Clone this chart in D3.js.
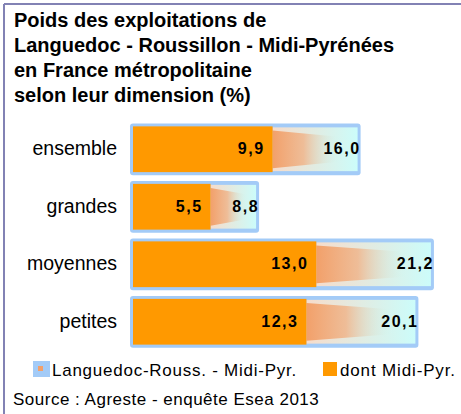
<!DOCTYPE html>
<html>
<head>
<meta charset="utf-8">
<script src="https://cdn.jsdelivr.net/npm/d3@7"></script>
<style>
  body { margin: 0; background: #fff; }
  svg { display: block; font-family: "Liberation Sans", Arial, sans-serif; }
</style>
</head>
<body>
<div id="chart"></div>
<script>
var titleLines = ["Poids des exploitations de",
                  "Languedoc - Roussillon - Midi-Pyrénées",
                  "en France métropolitaine",
                  "selon leur dimension (%)"];
var categories = ["ensemble", "grandes", "moyennes", "petites"];
var totalValues = [16.0, 8.8, 21.2, 20.1];
var midiPyrValues = [9.9, 5.5, 13.0, 12.3];
var legendLabels = ["Languedoc-Rouss. - Midi-Pyr.", "dont Midi-Pyr."];
var sourceText = "Source : Agreste - enquête Esea 2013";

var width = 461, height = 414;

var svg = d3.select("#chart").append("svg")
            .attr("width", width)
            .attr("height", height);

var defs = svg.append("defs");

var bgGrad = defs.append("linearGradient").attr("id", "bgGrad");
bgGrad.append("stop").attr("offset", "0%").attr("stop-color", "#f6dccb");
bgGrad.append("stop").attr("offset", "100%").attr("stop-color", "#ccfcfa");

var funnelGrad = defs.append("linearGradient").attr("id", "funnelGrad");
funnelGrad.append("stop").attr("offset", "0%").attr("stop-color", "#f2a06a").attr("stop-opacity", 1);
funnelGrad.append("stop").attr("offset", "45%").attr("stop-color", "#efb890").attr("stop-opacity", 0.9);
funnelGrad.append("stop").attr("offset", "100%").attr("stop-color", "#ccfcfa").attr("stop-opacity", 0);

// frame: top and left lines
svg.append("line").attr("x1", 4).attr("x2", width).attr("y1", 4).attr("y2", 4)
   .attr("stroke", "#8282b4").attr("stroke-width", 2);
svg.append("line").attr("x1", 4).attr("x2", 4).attr("y1", 4).attr("y2", height)
   .attr("stroke", "#8282b4").attr("stroke-width", 2);

// title
svg.append("g").selectAll("text")
   .data(titleLines)
   .enter()
   .append("text")
   .attr("x", 14)
   .attr("y", function (d, i) { return 27 + i * 25; })
   .style("font-size", "20px")
   .style("font-weight", "bold")
   .style("fill", "#000")
   .text(function (d) { return d; });

var x = d3.scaleLinear().domain([0, 22]).range([133, 133 + 22 * 14.1]);
var y = d3.scaleBand().domain(categories).range([120.5, 350.5])
          .paddingInner(0.1).paddingOuter(0.05);

var rows = categories.map(function (c, i) {
  return { cat: c, total: totalValues[i], mp: midiPyrValues[i] };
});

var bars = svg.append("g").selectAll("g")
              .data(rows)
              .enter()
              .append("g");

// outer blue bar
bars.append("rect")
    .attr("x", x(0) - 3)
    .attr("y", function (d) { return y(d.cat); })
    .attr("width", function (d) { return x(d.total) - x(0) + 5; })
    .attr("height", y.bandwidth())
    .attr("rx", 3)
    .style("fill", "#a3cbf7");

// inner gradient area
bars.append("rect")
    .attr("x", function (d) { return x(d.mp); })
    .attr("y", function (d) { return y(d.cat) + 4; })
    .attr("width", function (d) { return x(d.total) - x(d.mp) - 1; })
    .attr("height", y.bandwidth() - 8)
    .style("fill", "url(#bgGrad)");

// tapered orange fade
bars.append("polygon")
    .attr("points", function (d) {
      var x0 = x(d.mp), x1 = x(d.mp) + (x(d.total) - x(d.mp)) * 0.8;
      var t = y(d.cat) + 4, b = y(d.cat) + y.bandwidth() - 4, h = b - t;
      return [[x0, t + 3], [x1, t + h * 0.22], [x1, b - h * 0.22], [x0, b - 3]].join(" ");
    })
    .style("fill", "url(#funnelGrad)");

// orange bar
bars.append("rect")
    .attr("x", x(0))
    .attr("y", function (d) { return y(d.cat) + 3; })
    .attr("width", function (d) { return x(d.mp) - x(0); })
    .attr("height", y.bandwidth() - 6)
    .style("fill", "#ff9900");

var fmt = function (v) { return v.toFixed(1).replace(".", ","); };

bars.append("text")
    .attr("x", function (d) { return x(d.mp) - 8; })
    .attr("y", function (d) { return y(d.cat) + y.bandwidth() / 2 + 5; })
    .attr("text-anchor", "end")
    .style("font-size", "16px")
    .style("font-weight", "bold")
    .style("letter-spacing", "1.5px")
    .text(function (d) { return fmt(d.mp); });

bars.append("text")
    .attr("x", function (d) { return x(d.total) + 2; })
    .attr("y", function (d) { return y(d.cat) + y.bandwidth() / 2 + 5; })
    .attr("text-anchor", "end")
    .style("font-size", "16px")
    .style("font-weight", "bold")
    .style("letter-spacing", "1.5px")
    .text(function (d) { return fmt(d.total); });

// category labels
svg.append("g").selectAll("text")
   .data(categories)
   .enter()
   .append("text")
   .attr("x", 117)
   .attr("y", function (d) { return y(d) + y.bandwidth() / 2 + 6; })
   .attr("text-anchor", "end")
   .style("font-size", "19.5px")
   .text(function (d) { return d; });

// legend
var leg = svg.append("g");
leg.append("rect").attr("x", 33).attr("y", 361).attr("width", 17).attr("height", 16).style("fill", "#a3cbf7");
leg.append("rect").attr("x", 38).attr("y", 366).attr("width", 5).attr("height", 5).style("fill", "#f2a06a");
leg.append("text").attr("x", 52).attr("y", 376).style("font-size", "17px")
   .style("letter-spacing", "0.75px").text(legendLabels[0]);
leg.append("rect").attr("x", 323).attr("y", 362).attr("width", 14).attr("height", 14).style("fill", "#ff9900");
leg.append("text").attr("x", 340).attr("y", 376).style("font-size", "17px")
   .style("letter-spacing", "0.85px").text(legendLabels[1]);

svg.append("text").attr("x", 13).attr("y", 405).style("font-size", "17px")
   .style("letter-spacing", "0.5px").text(sourceText);
</script>
</body>
</html>
